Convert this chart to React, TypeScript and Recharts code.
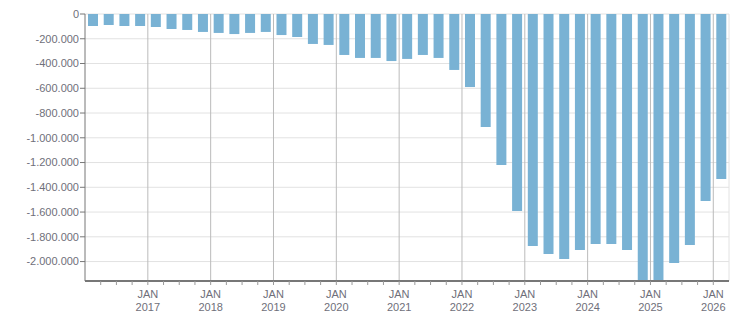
import React from 'react';
import { BarChart, Bar, XAxis, YAxis, CartesianGrid, ReferenceLine } from 'recharts';

const quarters = [
  'Q1 2016', 'Q2 2016', 'Q3 2016', 'Q4 2016',
  'Q1 2017', 'Q2 2017', 'Q3 2017', 'Q4 2017',
  'Q1 2018', 'Q2 2018', 'Q3 2018', 'Q4 2018',
  'Q1 2019', 'Q2 2019', 'Q3 2019', 'Q4 2019',
  'Q1 2020', 'Q2 2020', 'Q3 2020', 'Q4 2020',
  'Q1 2021', 'Q2 2021', 'Q3 2021', 'Q4 2021',
  'Q1 2022', 'Q2 2022', 'Q3 2022', 'Q4 2022',
  'Q1 2023', 'Q2 2023', 'Q3 2023', 'Q4 2023',
  'Q1 2024', 'Q2 2024', 'Q3 2024', 'Q4 2024',
  'Q1 2025', 'Q2 2025', 'Q3 2025', 'Q4 2025',
  'Q1 2026',
];

const values = [
  -97000, -89000, -97000, -97000, -105000, -121000, -129000, -145000, -153000, -162000,
  -153000, -145000, -170000, -186000, -242000, -250000, -331000, -355000, -355000, -380000,
  -363000, -331000, -355000, -452000, -590000, -913000, -1220000, -1591000, -1874000, -1939000,
  -1979000, -1906000, -1858000, -1858000, -1906000, -2160000, -2160000, -2011000, -1866000, -1510000,
  -1333000,
];

const yTicks = [0, -200000, -400000, -600000, -800000, -1000000, -1200000, -1400000, -1600000, -1800000, -2000000];
const yearLabels = ['2017', '2018', '2019', '2020', '2021', '2022', '2023', '2024', '2025', '2026'];
const monthLabel = 'JAN';

// x position of each quarter = its index + 0.5 (quarter midpoint on a quarter-index axis)
const data = quarters.map((q, i) => ({ q, x: i + 0.5, v: values[i] }));
const boundaryTicks = quarters.slice(1).map((_, i) => i + 1);
const yearBoundaries = yearLabels.map((_, i) => (i + 1) * 4);

const fmt = (n: number) => {
  const s = Math.abs(n).toString().replace(/\B(?=(\d{3})+(?!\d))/g, '.');
  return (n < 0 ? '-' : '') + s;
};

const FONT = '"Liberation Sans", Arial, sans-serif';
const TEXT = '#6f6f7a';

const XTick = (props: any) => {
  const { x, y, payload } = props;
  const idx = payload.value as number;
  if (idx % 4 !== 0) return null;
  const year = yearLabels[idx / 4 - 1];
  if (!year) return null;
  return (
    <g>
      <text x={x} y={y + 13} textAnchor="middle" fontSize={11} fontFamily={FONT} fill={TEXT}>{monthLabel}</text>
      <text x={x} y={y + 26} textAnchor="middle" fontSize={11} fontFamily={FONT} fill={TEXT}>{year}</text>
    </g>
  );
};

export default function App() {
  return (
    <div style={{ position: 'absolute', left: 0, top: 0, width: 751, height: 313, background: '#fff' }}>
      <BarChart width={751} height={313} data={data} margin={{ top: 14, right: 22, bottom: 0, left: 0 }}>
        <CartesianGrid vertical={false} stroke="#e2e2e2" strokeWidth={1} />
        <XAxis
          dataKey="x"
          type="number"
          domain={[0, 41]}
          ticks={boundaryTicks}
          interval={0}
          height={32}
          allowDataOverflow
          tickSize={4}
          tickMargin={0}
          tickLine={{ stroke: '#999' }}
          axisLine={{ stroke: '#777', strokeWidth: 2 }}
          tick={<XTick />}
        />
        <YAxis
          width={85}
          domain={[-2157000, 0]}
          allowDataOverflow
          ticks={yTicks}
          interval={0}
          tickFormatter={fmt}
          tickSize={5}
          tickMargin={1}
          tickLine={{ stroke: '#777' }}
          axisLine={{ stroke: '#777' }}
          tick={{ fontSize: 11, fontFamily: FONT, fill: TEXT }}
        />
        {yearBoundaries.map((b) => (
          <ReferenceLine key={b} x={b} stroke="#bbbbbb" strokeWidth={1} />
        ))}
        <ReferenceLine x={41} stroke="#e2e2e2" strokeWidth={1} />
        <Bar dataKey="v" fill="#79b2d4" barSize={10} isAnimationActive={false} />
      </BarChart>
    </div>
  );
}
